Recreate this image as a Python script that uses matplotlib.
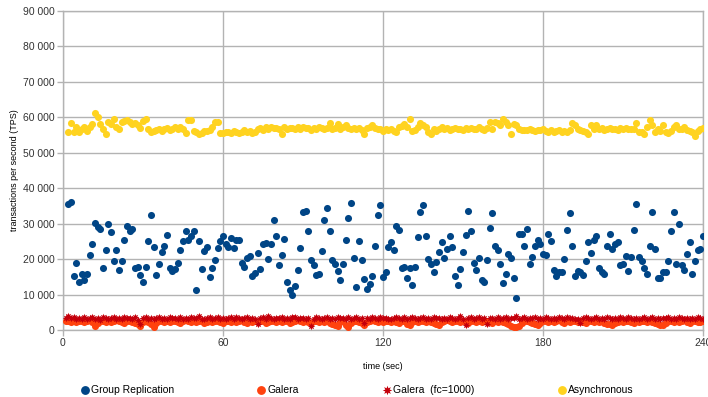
import matplotlib as mpl
import matplotlib.pyplot as plt
import numpy as np

mpl.rcParams['font.family'] = ['Liberation Sans', 'DejaVu Sans']
mpl.rcParams['font.size'] = 7.5

# values in thousands of TPS, one point per second
gr_start = 2
group_replication = [
    35.6, 36.2, 15.3, 18.8, 13.5, 15.8, 14.1, 15.9, 21.3, 24.2, 30.3, 29.1, 28.6, 17.6, 22.7, 29.9, 27.7, 19.4, 22.6, 16.8,
    19.5, 25.3, 29.3, 28.0, 28.4, 17.6, 17.7, 15.5, 13.5, 17.9, 25.2, 32.5, 23.4, 15.4, 18.7, 21.9, 23.8, 26.9, 17.5, 16.7,
    17.1, 18.9, 22.7, 25.1, 28.0, 25.3, 26.6, 27.8, 11.4, 25.1, 17.1, 22.4, 23.5, 15.0, 17.6, 19.8, 23.2, 25.2, 26.4, 24.2,
    23.5, 26.0, 23.2, 25.5, 25.4, 18.9, 17.7, 20.2, 20.8, 15.3, 16.0, 21.6, 17.2, 24.4, 24.5, 20.0, 24.3, 30.9, 26.5, 18.3,
    21.3, 25.7, 13.5, 11.4, 9.8, 12.4, 16.9, 23.1, 33.2, 33.5, 28.0, 19.8, 18.2, 15.5, 15.7, 22.4, 31.0, 34.5, 28.0, 19.7,
    18.7, 16.7, 14.1, 18.5, 25.4, 31.7, 35.8, 20.3, 12.1, 25.1, 19.8, 14.3, 11.7, 12.9, 15.2, 23.8, 32.5, 35.3, 15.0, 16.4,
    23.5, 24.8, 22.5, 29.4, 28.3, 17.4, 17.9, 14.8, 17.5, 12.6, 17.9, 26.2, 33.3, 35.3, 26.5, 19.9, 18.7, 16.3, 19.3, 21.9,
    24.8, 20.2, 22.9, 26.5, 23.5, 15.3, 12.6, 17.1, 22.1, 26.9, 33.5, 28.0, 19.0, 17.0, 20.3, 14.2, 13.5, 19.7, 28.7, 33.0,
    23.6, 22.7, 18.5, 13.3, 15.9, 21.5, 20.2, 14.6, 9.0, 27.0, 27.2, 23.7, 28.6, 18.6, 20.6, 23.7, 25.3, 24.3, 21.5, 21.3,
    27.2, 25.2, 17.0, 15.2, 16.5, 16.5, 20.0, 28.3, 33.1, 23.7, 15.2, 16.7, 16.4, 15.5, 19.4, 24.8, 21.6, 25.3, 26.5, 17.6,
    16.4, 15.7, 23.7, 27.0, 22.8, 24.4, 24.7, 18.2, 18.5, 21.0, 16.6, 20.6, 28.2, 35.5, 20.5, 19.5, 17.4, 15.9, 23.6, 33.2,
    22.9, 14.8, 14.6, 16.3, 16.4, 19.5, 27.9, 33.3, 18.5, 30.0, 18.4, 16.9, 21.5, 24.8, 15.7, 19.5, 22.6, 22.8, 26.6,
]

galera_start = 1
galera = [
    2.6, 2.4, 2.2, 2.5, 2.3, 2.6, 2.4, 2.2, 2.5, 2.7, 2.3, 1.0, 2.1, 2.4, 2.6, 2.3, 2.5, 2.2, 2.4, 2.7,
    2.5, 2.3, 2.1, 2.4, 2.6, 2.3, 2.0, 1.8, 1.2, 2.2, 2.5, 2.3, 1.6, 0.9, 2.1, 2.4, 2.6, 2.3, 2.5, 2.2,
    2.4, 2.6, 2.3, 2.1, 2.5, 2.7, 2.4, 2.2, 2.5, 2.3, 2.6, 2.4, 2.0, 2.3, 2.5, 2.2, 2.4, 2.6, 2.3, 2.1,
    2.4, 2.6, 2.3, 2.5, 2.2, 2.4, 2.7, 2.3, 2.1, 2.5, 2.3, 2.6, 2.2, 2.4, 2.5, 2.1, 2.3, 2.6, 2.4, 2.2,
    2.5, 2.3, 2.6, 2.4, 2.1, 2.3, 2.5, 2.7, 2.4, 2.2, 2.5, 2.3, 2.0, 2.4, 2.6, 2.3, 2.5, 2.2, 2.4, 2.1,
    1.8, 1.4, 1.2, 2.2, 2.5, 1.5, 0.9, 2.0, 2.4, 2.6, 2.3, 2.1, 1.5, 2.3, 2.5, 2.7, 2.4, 2.2, 2.5, 2.3,
    2.6, 2.4, 2.2, 2.5, 2.3, 2.1, 2.4, 2.6, 1.8, 1.3, 2.2, 2.5, 2.3, 2.6, 2.4, 2.2, 2.5, 2.3, 2.0, 1.6,
    1.4, 2.2, 2.5, 2.7, 2.4, 2.3, 2.6, 2.4, 2.2, 2.5, 2.3, 2.1, 2.4, 2.6, 2.3, 2.5, 2.2, 2.4, 2.6, 2.3,
    2.1, 2.4, 2.2, 2.5, 2.3, 2.0, 1.6, 1.2, 0.9, 0.8, 1.1, 1.9, 2.4, 2.6, 2.3, 2.1, 1.7, 1.3, 2.0, 2.4,
    2.6, 2.3, 2.5, 2.2, 2.4, 2.7, 2.3, 2.1, 2.5, 2.3, 2.6, 2.4, 2.2, 2.5, 2.3, 2.0, 2.4, 2.6, 2.3, 2.5,
    2.2, 2.4, 2.1, 1.8, 1.6, 1.3, 1.9, 2.3, 2.5, 2.2, 2.4, 2.6, 2.3, 2.1, 2.5, 2.3, 2.6, 2.4, 2.2, 2.5,
    2.3, 2.0, 1.7, 1.5, 1.4, 2.1, 2.4, 2.6, 2.3, 2.5, 2.2, 2.4, 2.7, 2.3, 2.1, 2.4, 2.6, 2.3, 2.2, 2.4,
]

galera_fc_start = 1
galera_fc = [
    3.4, 3.9, 3.3, 3.8, 3.1, 3.5, 3.2, 3.6, 3.0, 3.3, 3.7, 3.2, 3.4, 2.9, 3.6, 3.3, 3.1, 3.5, 3.8, 3.2,
    3.4, 3.0, 3.6, 3.3, 3.5, 3.1, 3.7, 2.9, 1.8, 3.3, 3.6, 3.2, 3.4, 3.0, 3.5, 3.8, 3.2, 3.4, 3.1, 3.6,
    3.3, 3.5, 3.0, 3.7, 3.2, 3.4, 3.1, 3.6, 3.3, 3.5, 3.9, 3.2, 3.0, 3.4, 3.6, 3.1, 3.3, 3.7, 3.2, 3.5,
    3.0, 3.4, 3.6, 3.2, 3.8, 3.3, 3.1, 3.5, 3.7, 3.2, 3.4, 3.0, 1.8, 3.3, 3.6, 3.2, 3.9, 3.4, 3.1, 3.5,
    3.3, 3.7, 3.0, 3.4, 3.2, 3.6, 3.8, 3.1, 3.5, 3.3, 3.0, 3.4, 1.0, 3.2, 3.6, 3.3, 3.1, 3.5, 3.7, 3.2,
    3.4, 3.0, 3.6, 3.3, 3.5, 3.1, 3.8, 3.2, 3.4, 3.6, 3.0, 3.3, 2.0, 3.5, 3.2, 3.7, 3.4, 3.1, 3.6, 3.3,
    3.5, 3.2, 3.0, 3.4, 3.7, 3.3, 3.1, 3.6, 3.2, 3.5, 3.8, 3.3, 3.0, 3.4, 3.6, 3.2, 3.4, 3.1, 3.7, 3.3,
    3.5, 3.0, 3.4, 3.2, 3.6, 3.3, 3.1, 3.5, 3.9, 3.2, 1.5, 3.4, 3.6, 3.1, 3.3, 3.7, 3.2, 3.4, 1.8, 3.5,
    3.3, 3.0, 3.6, 3.2, 3.4, 3.8, 3.1, 3.5, 3.3, 3.9, 3.2, 3.4, 3.6, 3.0, 3.3, 3.5, 3.7, 3.2, 3.4, 3.1,
    3.6, 3.3, 3.0, 3.5, 3.2, 3.8, 3.4, 3.1, 3.6, 3.3, 3.5, 3.2, 3.0, 2.0, 3.4, 3.6, 3.3, 3.1, 3.5, 3.7,
    3.2, 3.4, 3.0, 3.6, 3.3, 3.1, 3.5, 3.2, 3.8, 3.4, 3.1, 3.6, 3.3, 3.0, 3.5, 3.2, 3.4, 3.7, 3.1, 3.3,
    3.6, 3.2, 3.4, 3.0, 3.5, 3.3, 3.7, 3.1, 3.4, 3.2, 3.6, 3.3, 3.0, 3.5, 3.2, 3.4, 3.1, 3.6, 3.3, 3.2,
]

async_start = 2
asynchronous = [
    55.8, 58.4, 55.8, 57.2, 56.0, 56.7, 57.4, 56.2, 57.4, 58.1, 61.1, 60.0, 58.1, 56.7, 55.3, 58.6, 58.1, 59.5, 57.2, 56.7,
    58.6, 59.1, 59.2, 58.6, 58.1, 58.3, 57.7, 57.0, 58.9, 59.5, 56.7, 55.8, 56.2, 56.4, 56.7, 56.2, 56.6, 57.0, 56.4, 56.7,
    57.2, 56.6, 57.4, 56.7, 55.5, 59.2, 59.2, 56.2, 55.8, 55.3, 55.5, 56.1, 56.2, 56.4, 57.4, 58.6, 58.8, 55.6, 55.5, 55.9,
    56.0, 55.7, 56.1, 55.9, 55.6, 56.0, 56.3, 55.8, 56.1, 55.7, 56.0,
    56.8, 57.0, 56.5, 57.2, 56.6, 57.3, 56.9, 57.0, 56.8, 55.3, 57.4, 56.7, 57.1, 56.9,
    56.8, 57.2, 56.6, 57.3, 56.9, 57.0, 56.5, 57.1, 56.7, 57.2, 56.9, 56.6, 57.0, 58.3, 56.8, 57.1, 58.1, 56.7, 57.2, 57.7,
    56.9, 56.6, 57.1, 56.8, 57.0, 56.5, 55.3, 56.9, 57.2, 57.7, 57.0, 56.7,
    56.7, 56.2, 56.7, 56.4, 56.7, 56.2, 55.8, 57.2, 57.6, 58.1, 57.4, 59.5, 56.2, 56.4, 57.2, 58.3, 57.7, 57.2, 55.8, 55.3,
    56.7, 56.2, 56.7, 57.2,
    56.7, 56.9, 56.5, 56.8, 57.0, 56.6, 56.8, 56.4, 56.9, 56.7, 57.0, 56.6, 56.8, 57.4, 56.7, 56.5, 56.9,
    58.6, 56.7, 58.6, 58.3, 57.7, 59.5, 58.6, 57.7, 55.3, 58.1, 57.7,
    56.7, 56.4, 56.5, 56.3, 56.6, 56.4, 56.2, 56.5, 56.4, 56.6, 56.2, 56.0, 56.3, 55.9, 56.1, 56.4, 55.8, 56.2, 56.0, 56.3,
    58.3, 57.9, 56.7, 56.4, 56.1, 55.8, 55.3, 57.7, 56.7, 57.9, 56.7, 56.9, 56.5, 56.8, 57.0, 56.6, 56.8, 56.5, 56.9, 56.7,
    57.0, 56.6, 56.8,
    56.7, 58.3, 55.8, 56.0, 55.3, 57.4, 59.2, 57.7, 55.8, 56.7, 56.2, 57.7, 55.8, 55.5, 56.1, 57.2, 57.7, 56.7, 56.7, 57.2,
    56.4, 56.2, 55.8, 54.8, 56.2, 56.7, 56.9,
]

series = [
    ('Group Replication', gr_start, group_replication, '#004586', 'o', 26),
    ('Galera', galera_start, galera, '#ff420e', 'o', 26),
    ('Galera  (fc=1000)', galera_fc_start, galera_fc, '#c5000b', (8, 1, 0), 30),
    ('Asynchronous', async_start, asynchronous, '#ffd320', 'o', 26),
]

grid_color = '#b3b3b3'

fig = plt.figure(figsize=(7.08, 3.97), dpi=100)
ax = fig.add_axes([63 / 708, 67 / 397, 640 / 708, 319 / 397])

for name, start, vals, color, marker, size in series:
    t = np.arange(start, start + len(vals))
    ax.scatter(t, np.array(vals) * 1000, s=size, c=color, marker=marker,
               linewidths=0, label=name, zorder=3)

ax.set_xlim(0, 240)
ax.set_ylim(0, 90000)
ax.set_xticks(np.arange(0, 241, 60))
ax.set_yticks(np.arange(0, 90001, 10000))
ax.yaxis.set_major_formatter(mpl.ticker.FuncFormatter(lambda v, p: f'{int(v):,}'.replace(',', ' ')))

ax.grid(True, color=grid_color, linewidth=1.0, zorder=0)
ax.set_axisbelow(True)
for s in ax.spines.values():
    s.set_color(grid_color)
    s.set_linewidth(1.0)
ax.tick_params(axis='both', length=4, width=1, color=grid_color, labelsize=7.5,
               labelcolor='#333333', pad=2)

ax.set_xlabel('time (sec)', fontsize=6.5, labelpad=10)
ax.set_ylabel('transactions per second (TPS)', fontsize=6.5, labelpad=3)

fig.legend(loc='center', bbox_to_anchor=(0.505, 0.018), ncol=4, frameon=False,
           fontsize=7.5, handlelength=0.6, handletextpad=0.3, columnspacing=8.1,
           scatterpoints=1, markerscale=1.25)

fig.savefig('out.png', dpi=100)
